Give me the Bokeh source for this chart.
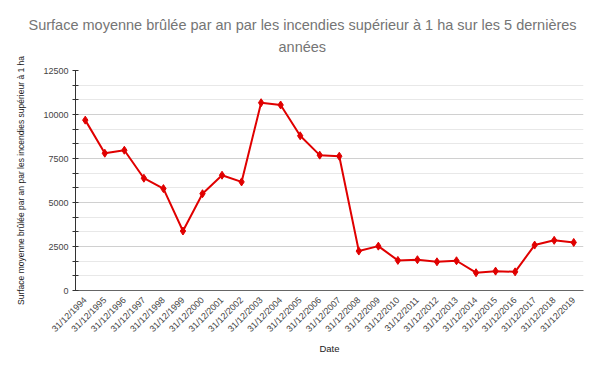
import math
from bokeh.plotting import figure
from bokeh.models import FixedTicker, Range1d, FactorRange, Title
from bokeh.embed import file_html
from bokeh.resources import INLINE

years = [str(y) for y in range(1994, 2020)]
dates = ["31/12/" + y for y in years]
surface = [9680, 7800, 7970, 6380, 5790, 3380, 5500, 6550, 6170, 10670, 10540,
           8790, 7690, 7630, 2240, 2520, 1710, 1750, 1630, 1690, 1010, 1100,
           1060, 2580, 2850, 2730]
y_major = [0, 2500, 5000, 7500, 10000, 12500]
y_minor = [833.33, 1666.67, 3333.33, 4166.67, 5833.33, 6666.67, 8333.33,
           9166.67, 10833.33, 11666.67]
title_line1 = "Surface moyenne brûlée par an par les incendies supérieur à 1 ha sur les 5 dernières"
title_line2 = "années"
y_label = "Surface moyenne brûlée par an par les incendies supérieur à 1 ha"
x_label = "Date"

FONT = "Liberation Sans"
RED = "#e00000"

p = figure(width=600, height=370, x_range=FactorRange(*dates),
           y_range=Range1d(0, 12500), output_backend="svg",
           toolbar_location=None, min_border_left=75, min_border_right=17,
           min_border_top=70, min_border_bottom=80)
p.title = None
p.outline_line_color = None

t2 = Title(text=title_line2, align="left", offset=203, text_font=FONT,
           text_font_size="14.5px", text_font_style="normal",
           text_color="#757575", standoff=32)
t1 = Title(text=title_line1, align="left", offset=-47, text_font=FONT,
           text_font_size="14.5px", text_font_style="normal",
           text_color="#757575", standoff=-25)
p.add_layout(t2, "above")
p.add_layout(t1, "above")

p.line(dates, surface, line_color=RED, line_width=2)
p.scatter(dates, surface, marker="diamond", size=8, color=RED)

p.yaxis.ticker = FixedTicker(ticks=y_major, minor_ticks=y_minor)
p.yaxis.axis_label = y_label
p.yaxis.axis_label_text_font = FONT
p.yaxis.axis_label_text_font_size = "8.5px"
p.yaxis.axis_label_text_font_style = "normal"
p.yaxis.axis_label_text_color = "#222222"
p.yaxis.axis_label_standoff = 14
p.yaxis.major_label_text_font = FONT
p.yaxis.major_label_text_font_size = "9px"
p.yaxis.major_label_text_color = "#444444"
p.yaxis.major_label_standoff = 4
p.yaxis.axis_line_color = "#333333"
p.yaxis.major_tick_line_color = "#333333"
p.yaxis.minor_tick_line_color = "#333333"
p.yaxis.major_tick_out = 3
p.yaxis.major_tick_in = 3
p.yaxis.minor_tick_out = 3
p.yaxis.minor_tick_in = 3

p.xaxis.axis_label = x_label
p.xaxis.axis_label_text_font = FONT
p.xaxis.axis_label_text_font_size = "9.5px"
p.xaxis.axis_label_text_font_style = "normal"
p.xaxis.axis_label_text_color = "#222222"
p.xaxis.axis_label_standoff = 3
p.xaxis.major_label_text_font = FONT
p.xaxis.major_label_text_font_size = "9px"
p.xaxis.major_label_text_color = "#444444"
p.xaxis.major_label_orientation = math.pi / 4
p.xaxis.major_label_standoff = 2
p.xaxis.axis_line_color = "#666666"
p.xaxis.major_tick_line_color = None
p.xaxis.minor_tick_line_color = None

p.xgrid.grid_line_color = None
p.ygrid.grid_line_color = "#d0d0d0"
p.ygrid.minor_grid_line_color = "#e8e8e8"

open("out.html", "w").write(file_html(p, INLINE))
